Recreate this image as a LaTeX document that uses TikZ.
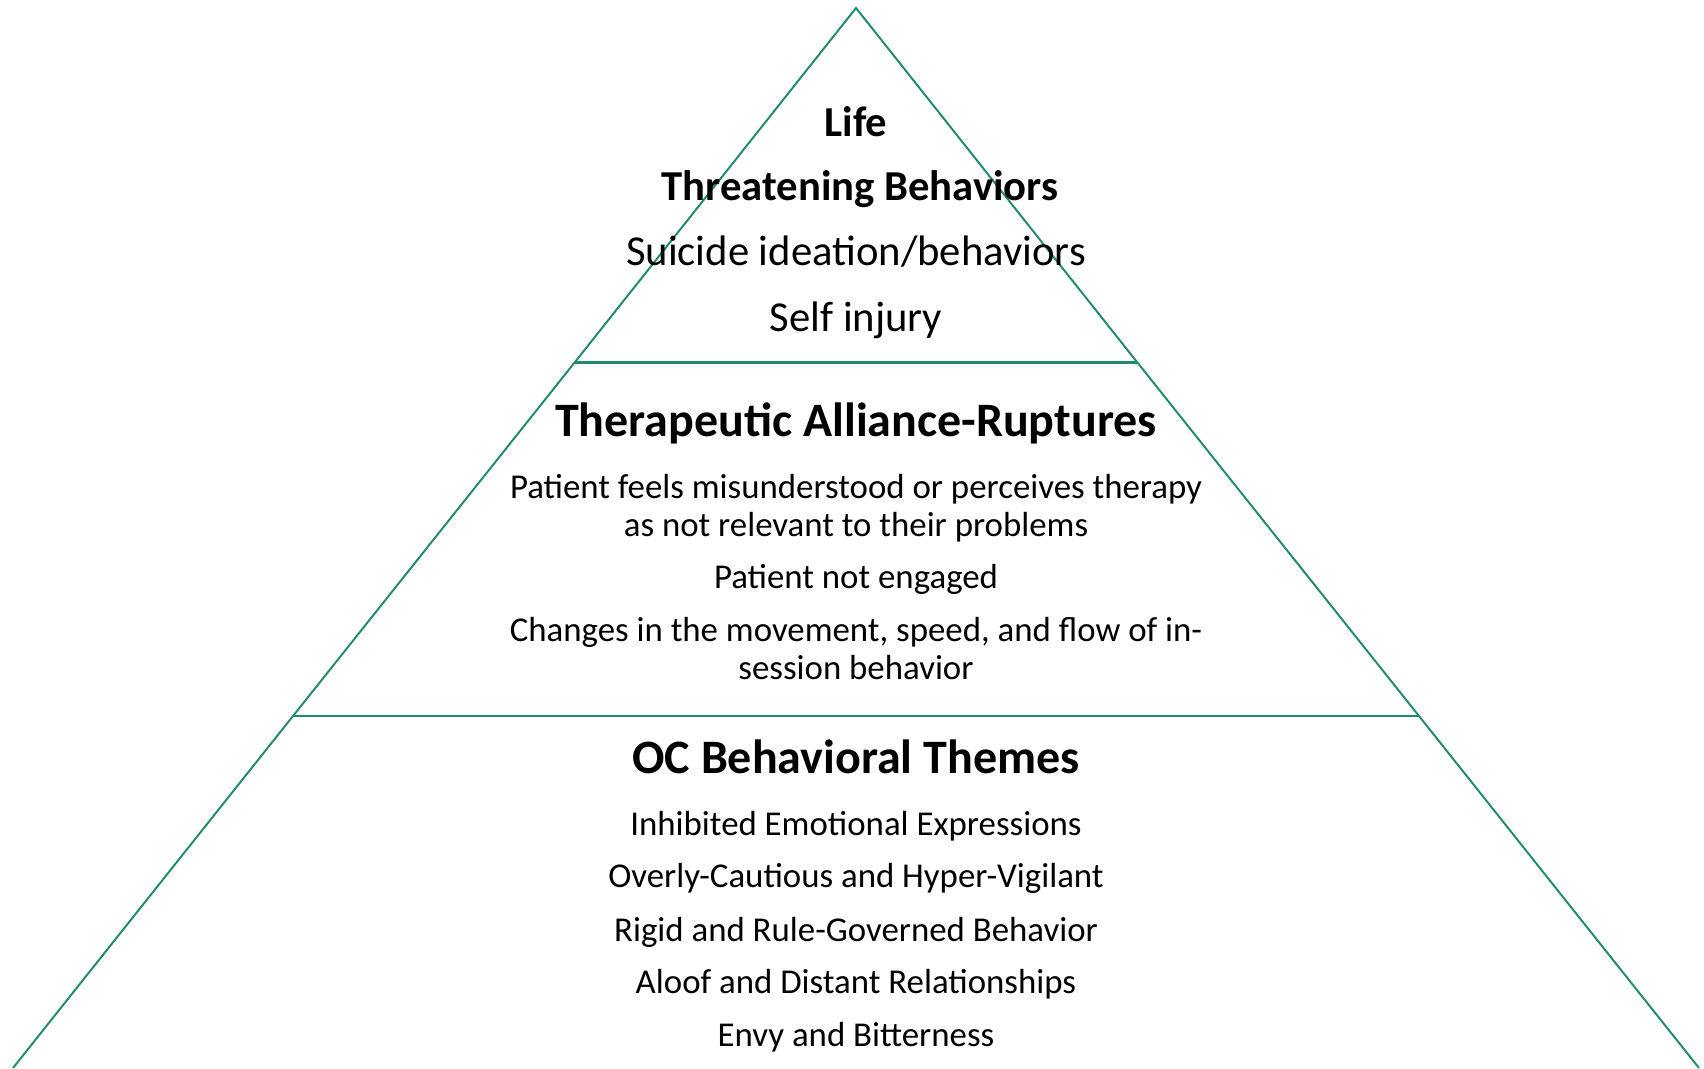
\documentclass[tikz,border=0pt]{standalone}
\usepackage{fontspec}
\setmainfont{Carlito}
\begin{document}
\begin{tikzpicture}[x=0.5625pt,y=-0.5625pt]
  \definecolor{pyrgreen}{HTML}{1F8B6C}
  \tikzset{
    pyrline/.style={draw=pyrgreen,line width=1.1pt},
    pyrhead/.style={anchor=base,font=\fontsize{27}{32}\selectfont\bfseries},
    toptext/.style={anchor=base,font=\fontsize{24}{29}\selectfont},
    bodytext/.style={anchor=base,font=\fontsize{19.6}{24}\selectfont},
  }
  \useasboundingbox (0,0) rectangle (1704,1068);

  % corners of the three bands
  \coordinate (apex) at (856,8);
  \coordinate (l1) at (575,362);
  \coordinate (r1) at (1137,362);
  \coordinate (l2) at (293,716);
  \coordinate (r2) at (1419,716);
  \coordinate (l3) at (13,1068);
  \coordinate (r3) at (1699,1068);

  \draw[pyrline] (l3) -- (l2) -- (l1) -- (apex) -- (r1) -- (r2) -- (r3);
  \draw[pyrline,line width=1.7pt] (l1) -- (r1);
  \draw[pyrline] (l2) -- (r2);

  % top band
  \node[toptext,font=\fontsize{24}{29}\selectfont\bfseries] (life) at (856,136) {Life};
  \node[toptext,font=\fontsize{24}{29}\selectfont\bfseries] (threat) at (860,200) {Threatening Behaviors};
  \node[toptext] (suicide) at (856,265) {Suicide ideation/behaviors};
  \node[toptext] (injury) at (856,331) {Self injury};

  % middle band
  \node[pyrhead] (alliance) at (856,436) {Therapeutic Alliance-Ruptures};
  \node[bodytext] (feels) at (856,498) {Patient feels misunderstood or perceives therapy};
  \node[bodytext] (relevant) at (856,536) {as not relevant to their problems};
  \node[bodytext] (engaged) at (856,588) {Patient not engaged};
  \node[bodytext] (changes) at (856,641) {Changes in the movement, speed, and flow of in-};
  \node[bodytext] (session) at (856,679) {session behavior};

  % bottom band
  \node[pyrhead] (themes) at (856,773) {OC Behavioral Themes};
  \node[bodytext] (inhibited) at (856,835) {Inhibited Emotional Expressions};
  \node[bodytext] (cautious) at (856,887) {Overly-Cautious and Hyper-Vigilant};
  \node[bodytext] (rigid) at (856,941) {Rigid and Rule-Governed Behavior};
  \node[bodytext] (aloof) at (856,993) {Aloof and Distant Relationships};
  \node[bodytext] (envy) at (856,1046) {Envy and Bitterness};
\end{tikzpicture}
\end{document}
